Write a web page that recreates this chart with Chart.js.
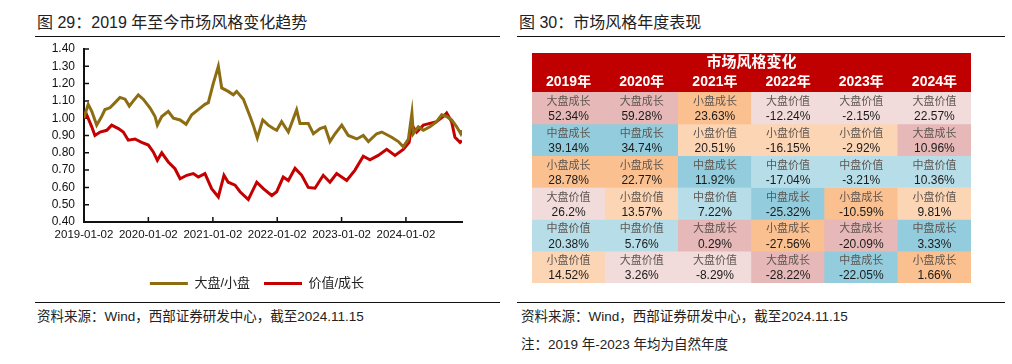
<!DOCTYPE html>
<html>
<head>
<meta charset="utf-8">
<script src="https://cdn.jsdelivr.net/npm/chart.js@4.4.1/dist/chart.umd.min.js"></script>
<style>
  body { margin: 0; width: 1012px; height: 364px; background: #fff; position: relative; overflow: hidden;
         font-family: "Liberation Sans", "Noto Sans CJK SC", sans-serif; color: #222; }
  .t { position: absolute; white-space: nowrap; line-height: 20px; }
  .rule { position: absolute; height: 0; border-top: 1.5px solid #111; }
  .box { position: absolute; }
</style>
</head>
<body>
<div class="t" style="left:37px;top:13px;font-size:16px">图 29：2019 年至今市场风格变化趋势</div>
<div class="rule" style="left:35px;top:36px;width:465px"></div>
<div class="t" style="left:519px;top:13px;font-size:16px">图 30：市场风格年度表现</div>
<div class="rule" style="left:517px;top:36px;width:488px"></div>

<div class="box" style="left:20px;top:40px;width:480px;height:260px"><canvas id="trendChart" width="480" height="260"></canvas></div>
<div class="box" style="left:520px;top:45px;width:480px;height:245px"><canvas id="styleChart" width="480" height="245"></canvas></div>

<div class="rule" style="left:35px;top:302px;width:465px"></div>
<div class="rule" style="left:517px;top:302px;width:488px"></div>
<div class="t" style="left:37px;top:307px;font-size:13.5px">资料来源：Wind，西部证券研发中心，截至2024.11.15</div>
<div class="t" style="left:521px;top:307px;font-size:13.5px">资料来源：Wind，西部证券研发中心，截至2024.11.15</div>
<div class="t" style="left:521px;top:335px;font-size:13.5px">注：2019 年-2023 年均为自然年度</div>

<script>
// 左图：大盘/小盘、价值/成长 相对走势
const xTickLabels = ['2019-01-02', '2020-01-02', '2021-01-02', '2022-01-02', '2023-01-02', '2024-01-02'];
const endDate = '2024-11-15';

const goldDates = ['2019-01-02','2019-01-10','2019-01-26','2019-02-15','2019-03-15','2019-04-12','2019-05-01','2019-05-29',
  '2019-06-27','2019-07-25','2019-08-23','2019-09-16','2019-10-09','2019-11-06','2019-12-04','2020-01-11','2020-02-09',
  '2020-02-22','2020-03-18','2020-04-24','2020-05-23','2020-06-30','2020-08-03','2020-09-04','2020-10-11','2020-11-18',
  '2020-12-07','2021-01-04','2021-02-02','2021-02-21','2021-03-30','2021-04-28','2021-05-17','2021-06-24','2021-08-01',
  '2021-08-19','2021-09-11','2021-10-12','2021-11-12','2021-12-11','2021-12-30','2022-01-27','2022-03-06','2022-04-22',
  '2022-05-11','2022-06-27','2022-07-26','2022-09-02','2022-09-30','2022-10-28','2022-11-26','2023-01-03','2023-02-09',
  '2023-03-29','2023-05-05','2023-06-03','2023-07-20','2023-08-18','2023-10-13','2023-11-20','2023-12-18','2024-01-16',
  '2024-02-05','2024-02-13','2024-03-12','2024-04-10','2024-05-17','2024-06-24','2024-07-23','2024-08-20','2024-09-17',
  '2024-10-16','2024-11-08','2024-11-15'];
const goldValues = [1.00,1.03,1.08,1.04,0.96,1.01,1.05,1.06,
  1.09,1.12,1.11,1.07,1.10,1.135,1.11,1.06,1.01,
  0.96,1.01,1.04,1.00,0.99,0.965,1.02,1.05,1.08,
  1.09,1.20,1.30,1.175,1.155,1.135,1.155,1.11,1.01,
  0.96,0.886,0.99,0.96,0.94,0.93,0.98,0.92,1.048,
  0.97,0.97,0.91,0.94,0.95,0.865,0.91,0.96,0.90,
  0.88,0.90,0.865,0.91,0.92,0.89,0.865,0.835,0.88,
  1.03,0.91,0.95,0.93,0.95,0.98,1.02,1.01,0.99,
  0.95,0.91,0.93];

const redDates = ['2019-01-02','2019-01-17','2019-02-15','2019-03-05','2019-04-03','2019-05-11','2019-06-08','2019-07-16',
  '2019-08-13','2019-09-10','2019-10-18','2019-11-25','2020-01-02','2020-01-30','2020-02-22','2020-03-18','2020-04-24',
  '2020-06-01','2020-06-30','2020-08-07','2020-09-13','2020-10-11','2020-11-18','2020-12-26','2021-02-02','2021-03-06',
  '2021-03-30','2021-05-08','2021-06-05','2021-07-22','2021-09-08','2021-10-15','2021-12-02','2021-12-30','2022-02-05',
  '2022-03-06','2022-04-13','2022-05-21','2022-06-27','2022-08-04','2022-09-20','2022-10-28','2022-12-05','2023-01-31',
  '2023-03-19','2023-05-05','2023-06-12','2023-07-29','2023-09-15','2023-11-01','2023-12-18','2024-01-20','2024-02-05',
  '2024-03-03','2024-04-10','2024-05-17','2024-06-24','2024-08-01','2024-08-20','2024-09-17','2024-10-06','2024-11-04',
  '2024-11-15'];
const redValues = [1.00,1.02,0.95,0.90,0.92,0.93,0.96,0.94,
  0.92,0.873,0.88,0.86,0.845,0.805,0.757,0.80,0.747,
  0.708,0.65,0.67,0.68,0.66,0.68,0.593,0.545,0.67,
  0.63,0.613,0.575,0.53,0.63,0.593,0.553,0.575,0.66,
  0.64,0.71,0.67,0.60,0.595,0.67,0.63,0.68,0.64,
  0.70,0.78,0.76,0.785,0.82,0.785,0.82,0.86,0.96,
  0.92,0.96,0.97,0.98,1.01,1.03,0.98,0.89,0.86,
  0.87];

// 右图：市场风格年度表现（按年度排名）
const tableYears = ['2019年', '2020年', '2021年', '2022年', '2023年', '2024年'];
const rankStyles = [
  ['大盘成长', '大盘成长', '小盘成长', '大盘价值', '大盘价值', '大盘价值'],
  ['中盘成长', '中盘成长', '小盘价值', '小盘价值', '小盘价值', '大盘成长'],
  ['小盘成长', '小盘成长', '中盘成长', '中盘价值', '中盘价值', '中盘价值'],
  ['大盘价值', '小盘价值', '中盘价值', '中盘成长', '小盘成长', '小盘价值'],
  ['中盘价值', '中盘价值', '大盘成长', '小盘成长', '大盘成长', '中盘成长'],
  ['小盘价值', '大盘价值', '大盘价值', '大盘成长', '中盘成长', '小盘成长']
];
const rankReturns = [
  [52.34, 59.28, 23.63, -12.24, -2.15, 22.57],
  [39.14, 34.74, 20.51, -16.15, -2.92, 10.96],
  [28.78, 22.77, 11.92, -17.04, -3.21, 10.36],
  [26.2, 13.57, 7.22, -25.32, -10.59, 9.81],
  [20.38, 5.76, 0.29, -27.56, -20.09, 3.33],
  [14.52, 3.26, -8.29, -28.22, -22.05, 1.66]
];
const styleColors = {
  '大盘成长': '#E6B9B8', '大盘价值': '#F2DCDB',
  '中盘成长': '#93CDDD', '中盘价值': '#B7DEE8',
  '小盘成长': '#FAC090', '小盘价值': '#FCD5B5'
};

Chart.defaults.font.family = '"Liberation Sans", "Noto Sans CJK SC", sans-serif';
Chart.defaults.color = '#111';

const startMs = Date.parse(xTickLabels[0]);
function dayOf(d) {
    return Math.round((Date.parse(d) - startMs) / 86400000);
}
const tickDays = xTickLabels.map(dayOf);

// 刻度线画在坐标轴内侧
const innerTicks = {
    id: 'innerTicks',
    beforeDatasetsDraw(chart) {
        const {ctx, chartArea, scales} = chart;
        ctx.save();
        ctx.strokeStyle = '#111';
        ctx.lineWidth = 1.5;
        ctx.beginPath();
        scales.y.ticks.forEach(t => {
            const y = scales.y.getPixelForValue(t.value);
            ctx.moveTo(chartArea.left, y);
            ctx.lineTo(chartArea.left + 5, y);
        });
        scales.x.ticks.forEach(t => {
            const x = scales.x.getPixelForValue(t.value);
            ctx.moveTo(x, chartArea.bottom);
            ctx.lineTo(x, chartArea.bottom - 5);
        });
        ctx.stroke();
        ctx.restore();
    }
};

new Chart(document.getElementById('trendChart'), {
    type: 'line',
    data: {
        datasets: [
            {
                label: '大盘/小盘',
                data: goldDates.map((d, i) => ({x: dayOf(d), y: goldValues[i]})),
                borderColor: '#8C6D12',
                backgroundColor: '#8C6D12',
                borderWidth: 3,
                pointRadius: 0,
                pointStyle: 'line',
                tension: 0
            },
            {
                label: '价值/成长',
                data: redDates.map((d, i) => ({x: dayOf(d), y: redValues[i]})),
                borderColor: '#C40000',
                backgroundColor: '#C40000',
                borderWidth: 3,
                pointRadius: 0,
                pointStyle: 'line',
                tension: 0
            }
        ]
    },
    options: {
        responsive: false,
        animation: false,
        layout: { padding: { left: 32, right: 38, top: 9, bottom: 0 } },
        plugins: {
            tooltip: { enabled: false },
            legend: {
                position: 'bottom',
                labels: {
                    usePointStyle: true,
                    pointStyleWidth: 38,
                    padding: 14,
                    color: '#222',
                    font: { size: 13 }
                }
            }
        },
        scales: {
            x: {
                type: 'linear',
                min: 0,
                max: dayOf(endDate),
                afterBuildTicks: scale => { scale.ticks = tickDays.map(v => ({value: v})); },
                afterFit: scale => { scale.height = 41; },
                grid: { display: false, drawTicks: false },
                border: { color: '#111', width: 2 },
                ticks: {
                    autoSkip: false,
                    maxRotation: 0,
                    padding: 6,
                    font: { size: 11.5 },
                    callback: v => xTickLabels[tickDays.indexOf(v)]
                }
            },
            y: {
                min: 0.4,
                max: 1.4,
                afterFit: scale => {
                    scale.width = 32;
                    scale.paddingTop = 0;
                    scale.paddingBottom = 0;
                },
                grid: { display: false, drawTicks: false },
                border: { color: '#111', width: 2 },
                ticks: {
                    stepSize: 0.1,
                    autoSkip: false,
                    padding: 9,
                    font: { size: 12 },
                    callback: v => v.toFixed(2)
                }
            }
        }
    },
    plugins: [innerTicks]
});

// 表头红底
const headerBg = {
    id: 'headerBg',
    beforeDraw(chart) {
        const {ctx, chartArea} = chart;
        const top = chart.titleBlock.top;
        ctx.save();
        ctx.fillStyle = '#C00000';
        ctx.fillRect(chartArea.left, top, chartArea.right - chartArea.left, chartArea.top - top);
        ctx.restore();
    }
};

// 单元格文字：风格 + 收益率
const cellText = {
    id: 'cellText',
    afterDatasetsDraw(chart) {
        const {ctx} = chart;
        ctx.save();
        ctx.textAlign = 'center';
        ctx.textBaseline = 'middle';
        chart.data.datasets.forEach((ds, r) => {
            chart.getDatasetMeta(r).data.forEach((bar, c) => {
                const mid = (bar.y + bar.base) / 2;
                ctx.fillStyle = '#5e5550';
                ctx.font = '11px "Noto Sans CJK SC"';
                ctx.fillText(rankStyles[r][c], bar.x, mid - 7);
                ctx.fillStyle = '#1a1a1a';
                ctx.font = '12px "Liberation Sans"';
                ctx.fillText(rankReturns[r][c] + '%', bar.x, mid + 9);
            });
        });
        ctx.restore();
    }
};

new Chart(document.getElementById('styleChart'), {
    type: 'bar',
    data: {
        labels: tableYears,
        datasets: rankStyles.map((row, r) => ({
            label: '第' + (r + 1) + '名',
            data: tableYears.map(() => 1),
            backgroundColor: row.map(s => styleColors[s]),
            borderWidth: 0,
            barPercentage: 1,
            categoryPercentage: 1
        }))
    },
    options: {
        responsive: false,
        animation: false,
        layout: { padding: { left: 12, right: 29, top: 8, bottom: 7 } },
        plugins: {
            tooltip: { enabled: false },
            legend: { display: false },
            title: {
                display: true,
                text: '市场风格变化',
                color: '#fff',
                font: { size: 15, weight: 'bold' },
                padding: { top: 1, bottom: 3 }
            }
        },
        scales: {
            x: {
                position: 'top',
                stacked: true,
                grid: { display: false, drawTicks: false },
                border: { display: false },
                afterFit: scale => { scale.height = 17; },
                ticks: {
                    color: '#fff',
                    padding: 1,
                    font: { size: 14, weight: 'bold' }
                }
            },
            y: {
                stacked: true,
                display: false,
                reverse: true,
                min: 0,
                max: 6
            }
        }
    },
    plugins: [headerBg, cellText]
});
</script>
</body>
</html>
